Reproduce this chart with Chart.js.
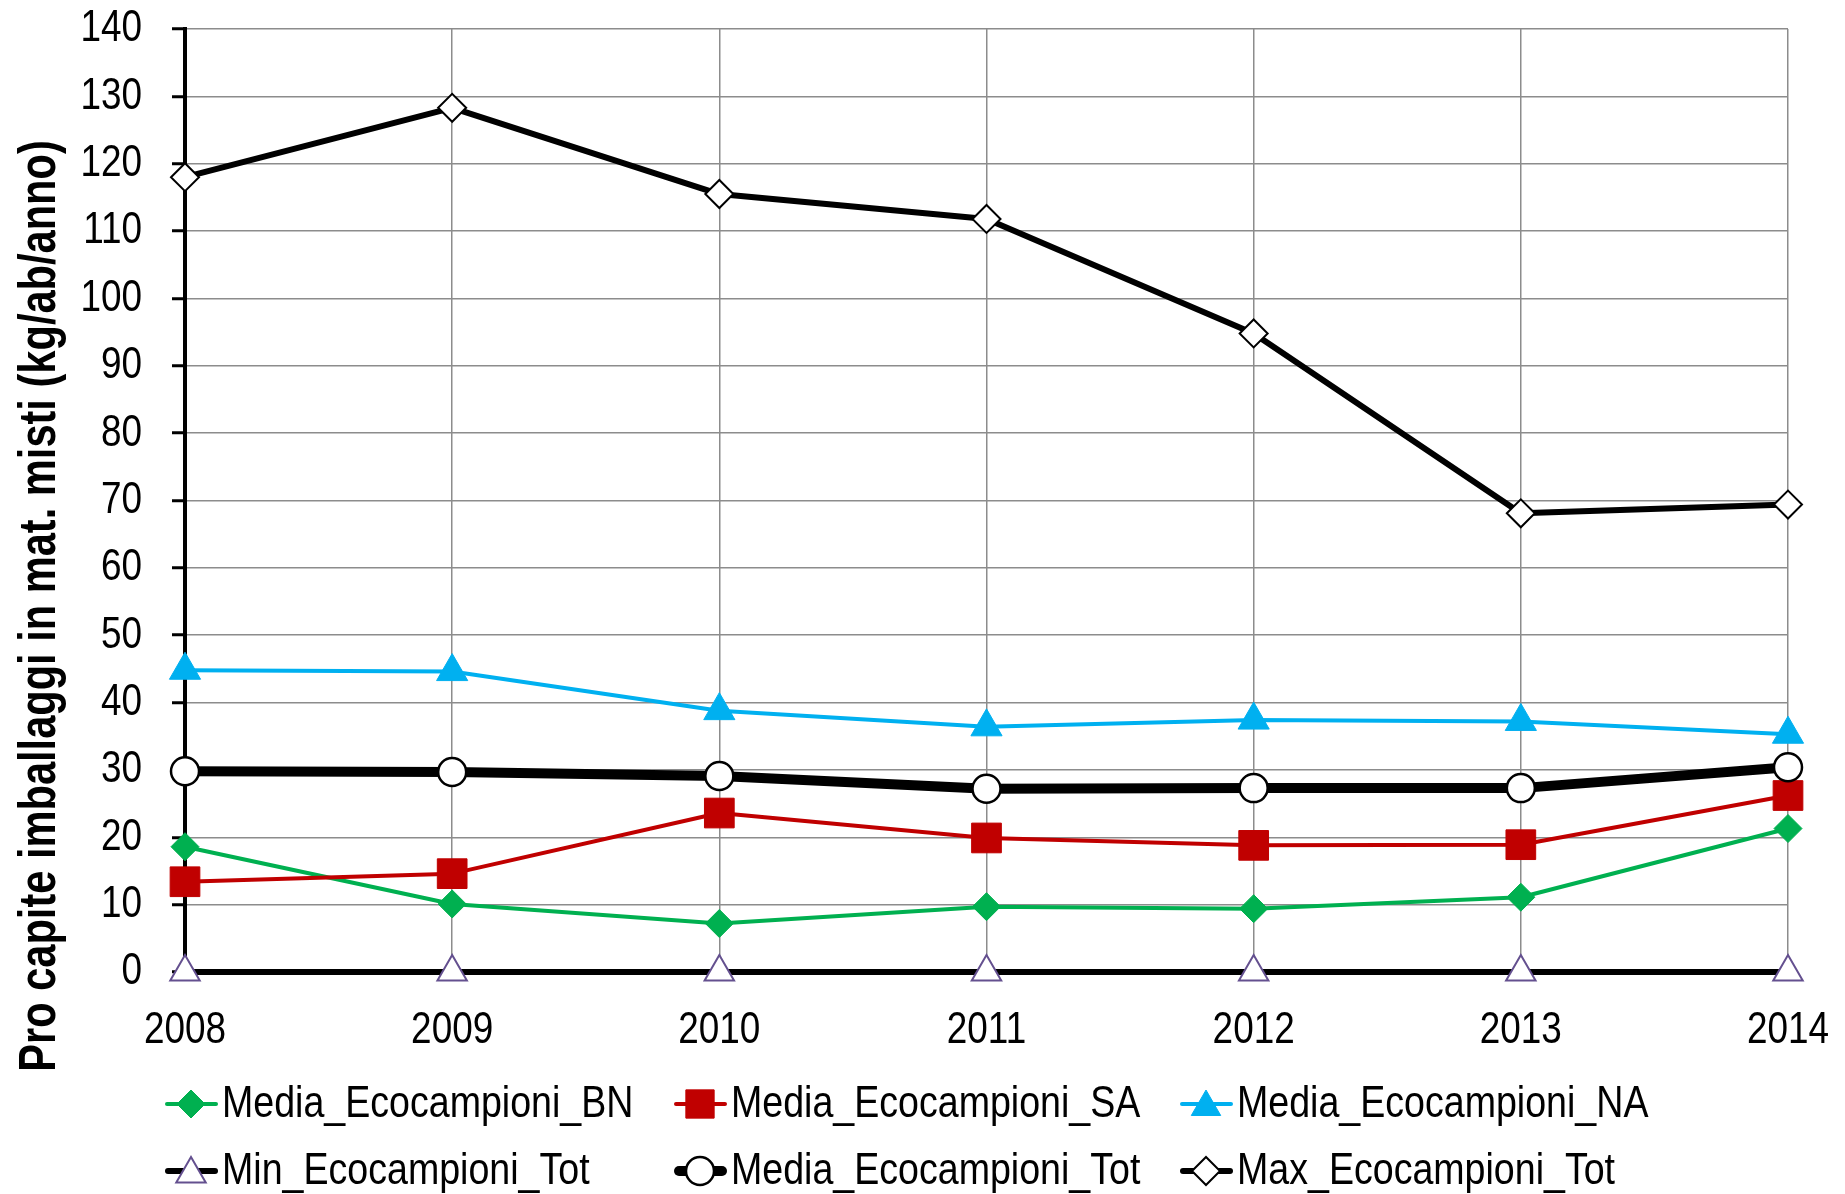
<!DOCTYPE html>
<html>
<head>
<meta charset="utf-8">
<script src="https://cdn.jsdelivr.net/npm/chart.js@4/dist/chart.umd.min.js"></script>
<style>
  html, body { margin: 0; padding: 0; background: #fff; }
  #wrap { width: 1845px; height: 1194px; position: relative; }
</style>
</head>
<body>
<div id="wrap"><canvas id="c"></canvas></div>
<script>
const years = ['2008', '2009', '2010', '2011', '2012', '2013', '2014'];
const mediaBN = [18.6, 10.1, 7.2, 9.7, 9.4, 11.1, 21.3];
const mediaSA = [13.4, 14.6, 23.6, 19.9, 18.8, 18.9, 26.2];
const mediaNA = [44.8, 44.6, 38.8, 36.4, 37.4, 37.2, 35.3];
const minTot = [0, 0, 0, 0, 0, 0, 0];
const mediaTot = [29.8, 29.7, 29.1, 27.2, 27.3, 27.3, 30.4];
const maxTot = [118.0, 128.3, 115.5, 111.8, 94.8, 68.1, 69.4];
const seriesNames = ['Media_Ecocampioni_BN', 'Media_Ecocampioni_SA', 'Media_Ecocampioni_NA',
                     'Min_Ecocampioni_Tot', 'Media_Ecocampioni_Tot', 'Max_Ecocampioni_Tot'];
const yTitle = 'Pro capite imballaggi in mat. misti (kg/ab/anno)';

const FONT = '"Liberation Sans", Arial, sans-serif';

function ds(label, data, color, width, style, radius, fill, border, bw, order) {
  return {
    label, data, borderColor: color, borderWidth: width, tension: 0,
    pointStyle: style, pointRadius: radius, pointHoverRadius: radius,
    pointBackgroundColor: fill, pointBorderColor: border, pointBorderWidth: bw,
    borderJoinStyle: 'round', borderCapStyle: 'round', fill: false, order, clip: false
  };
}

const datasets = [
  ds(seriesNames[0], mediaBN, '#00B050', 4, 'rectRot', 14, '#00B050', '#00B050', 1, 5),
  ds(seriesNames[1], mediaSA, '#C00000', 4, 'rect', 21, '#C00000', '#C00000', 1, 4),
  ds(seriesNames[2], mediaNA, '#00B0F0', 4, 'triangle', 18, '#00B0F0', '#00B0F0', 1, 3),
  ds(seriesNames[3], minTot, '#000000', 6, 'triangle', 17, '#FFFFFF', '#64508F', 2, 2),
  ds(seriesNames[4], mediaTot, '#000000', 10, 'circle', 14, '#FFFFFF', '#000000', 2.5, 1),
  ds(seriesNames[5], maxTot, '#000000', 6, 'rectRot', 14, '#FFFFFF', '#000000', 2, 0)
];

function marker(ctx, style, r, x, y) {
  ctx.beginPath();
  if (style === 'rectRot') {
    ctx.moveTo(x - r, y); ctx.lineTo(x, y - r); ctx.lineTo(x + r, y); ctx.lineTo(x, y + r);
  } else if (style === 'rect') {
    const s = Math.SQRT1_2 * r;
    ctx.rect(x - s, y - s, 2 * s, 2 * s);
  } else if (style === 'triangle') {
    ctx.moveTo(x, y - r);
    ctx.lineTo(x - r * 0.866, y + r * 0.5);
    ctx.lineTo(x + r * 0.866, y + r * 0.5);
  } else {
    ctx.arc(x, y, r, 0, Math.PI * 2);
  }
  ctx.closePath();
  ctx.fill();
  ctx.stroke();
}

function narrowText(ctx, text, x, y, align, font, sx, rot) {
  ctx.save();
  ctx.translate(x, y);
  if (rot) ctx.rotate(rot);
  ctx.scale(sx, 1);
  ctx.font = font;
  ctx.fillStyle = '#000';
  ctx.textAlign = align;
  ctx.textBaseline = 'middle';
  ctx.fillText(text, 0, 0);
  ctx.restore();
}

const textPlugin = {
  id: 'narrowText',
  afterDraw(chart) {
    const ctx = chart.ctx;
    const xs = chart.scales.x, ys = chart.scales.y;
    const tickFont = '45px ' + FONT;
    ys.ticks.forEach((t, i) => {
      narrowText(ctx, String(t.value), ys.left - 30, ys.getPixelForTick(i), 'right', tickFont, 0.82);
    });
    xs.ticks.forEach((t, i) => {
      narrowText(ctx, chart.data.labels[t.value], xs.getPixelForTick(i), xs.bottom + 59, 'center', tickFont, 0.82);
    });
    narrowText(ctx, yTitle, 41, 606, 'center', 'bold 52px ' + FONT, 0.80, -Math.PI / 2);

    const cols = [165, 674, 1180];
    const rows = [1104, 1171];
    chart.data.datasets.forEach((d, i) => {
      const x0 = cols[i % 3], y = rows[Math.floor(i / 3)];
      ctx.save();
      ctx.strokeStyle = d.borderColor;
      ctx.lineWidth = d.borderWidth;
      ctx.lineCap = 'round';
      ctx.beginPath(); ctx.moveTo(x0 + d.borderWidth / 2, y); ctx.lineTo(x0 + 53 - d.borderWidth / 2, y); ctx.stroke();
      ctx.fillStyle = d.pointBackgroundColor;
      ctx.strokeStyle = d.pointBorderColor;
      ctx.lineWidth = d.pointBorderWidth;
      ctx.lineCap = 'butt';
      const r = d.pointStyle === 'rect' ? 20 : (d.pointStyle === 'triangle' ? 17 : 14);
      marker(ctx, d.pointStyle, r, x0 + 26, y + (d.pointStyle === 'triangle' ? 3 : 0));
      ctx.restore();
      narrowText(ctx, d.label, x0 + 57, y + 1, 'left', '45px ' + FONT, 0.835);
    });
  }
};

new Chart(document.getElementById('c'), {
  type: 'line',
  data: { labels: years, datasets },
  options: {
    responsive: true,
    maintainAspectRatio: false,
    animation: false,
    devicePixelRatio: 1,
    layout: { padding: { top: 29, right: 57, bottom: 222, left: 172 } },
    plugins: { legend: { display: false }, tooltip: { enabled: false } },
    scales: {
      x: {
        type: 'category',
        offset: false,
        grid: { color: '#8C8C8C', lineWidth: 1.5, drawTicks: false },
        border: { color: '#000', width: 4 },
        ticks: { display: false, autoSkip: false }
      },
      y: {
        min: 0, max: 140,
        grid: { color: '#8C8C8C', lineWidth: 1.5, tickLength: 13, tickColor: '#000', tickWidth: 3 },
        border: { color: '#000', width: 4 },
        ticks: { display: false, stepSize: 10 }
      }
    }
  },
  plugins: [textPlugin]
});
</script>
</body>
</html>
